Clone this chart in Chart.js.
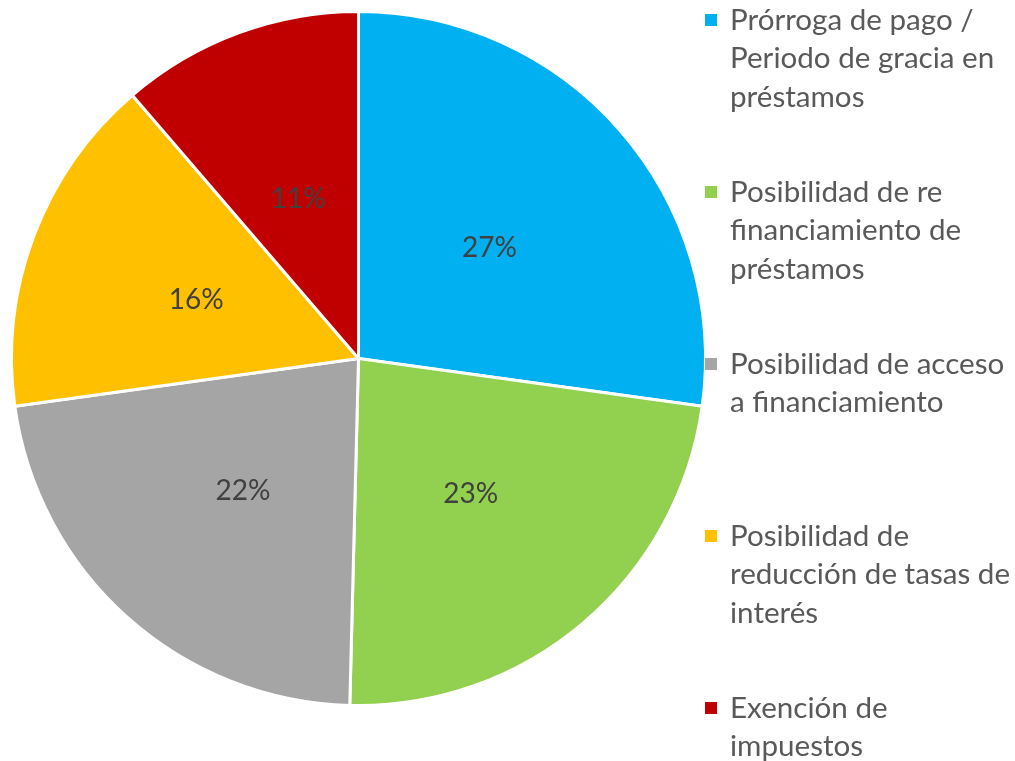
<!DOCTYPE html>
<html>
<head>
<meta charset="utf-8">
<script src="https://cdn.jsdelivr.net/npm/chart.js@4.4.1/dist/chart.umd.min.js"></script>
<style>
html,body{margin:0;padding:0;background:#fff;}
#wrap{width:1015px;height:761px;position:relative;}
</style>
</head>
<body>
<div id="wrap"><canvas id="c" width="1015" height="761"></canvas></div>
<script>
const categories = [
  ["Prórroga de pago /", "Periodo de gracia en", "préstamos"],
  ["Posibilidad de re", "financiamiento de", "préstamos"],
  ["Posibilidad de acceso", "a financiamiento"],
  ["Posibilidad de", "reducción de tasas de", "interés"],
  ["Exención de", "impuestos"]
];
const values = [27.2, 23.2, 22.4, 15.9, 11.3];
const valueLabels = ["27%", "23%", "22%", "16%", "11%"];
const colors = ["#00B0F0", "#92D050", "#A5A5A5", "#FFC000", "#C00000"];

const FONT = "Lato, 'Open Sans', sans-serif";

function fitSize(ctx, text, targetW, weight) {
  ctx.font = (weight||"") + " 40px " + FONT;
  const w = ctx.measureText(text).width;
  return 40 * targetW / w;
}

const overlay = {
  id: 'overlay',
  afterDraw(chart) {
    const ctx = chart.ctx;
    const meta = chart.getDatasetMeta(0);
    ctx.save();
    // value labels
    const vs = fitSize(ctx, "27%", 55);
    ctx.font = vs.toFixed(1) + "px " + FONT;
    ctx.fillStyle = "#404040";
    ctx.textAlign = "center";
    ctx.textBaseline = "middle";
    meta.data.forEach((arc, i) => {
      const p = arc.getProps(['x','y','startAngle','endAngle','outerRadius'], true);
      const mid = (p.startAngle + p.endAngle) / 2;
      const d = p.outerRadius * 0.5;
      ctx.fillText(valueLabels[i], p.x + Math.cos(mid) * d, p.y + Math.sin(mid) * d + 3);
    });
    // legend
    const ls = fitSize(ctx, "reducción de tasas de", 280);
    ctx.font = ls.toFixed(1) + "px " + FONT;
    ctx.textAlign = "left";
    const lineH = 38.7;
    const itemStep = 172;
    categories.forEach((lines, i) => {
      const y0 = 20 + i * itemStep;
      ctx.fillStyle = colors[i];
      ctx.fillRect(705, y0 - 6, 12, 12);
      ctx.fillStyle = "#595959";
      lines.forEach((t, j) => {
        ctx.fillText(t, 730, y0 + j * lineH);
      });
    });
    ctx.restore();
  }
};

new Chart(document.getElementById('c'), {
  type: 'pie',
  data: {
    labels: categories.map(l => l.join(' ')),
    datasets: [{
      data: values,
      backgroundColor: colors,
      borderColor: '#ffffff',
      borderWidth: 3,
      hoverOffset: 0,
      radius: 347
    }]
  },
  options: {
    responsive: false,
    animation: false,
    layout: { padding: { left: 0, top: 0, right: 298, bottom: 44 } },
    plugins: {
      legend: { display: false },
      tooltip: { enabled: false }
    }
  },
  plugins: [overlay]
});
</script>
</body>
</html>
